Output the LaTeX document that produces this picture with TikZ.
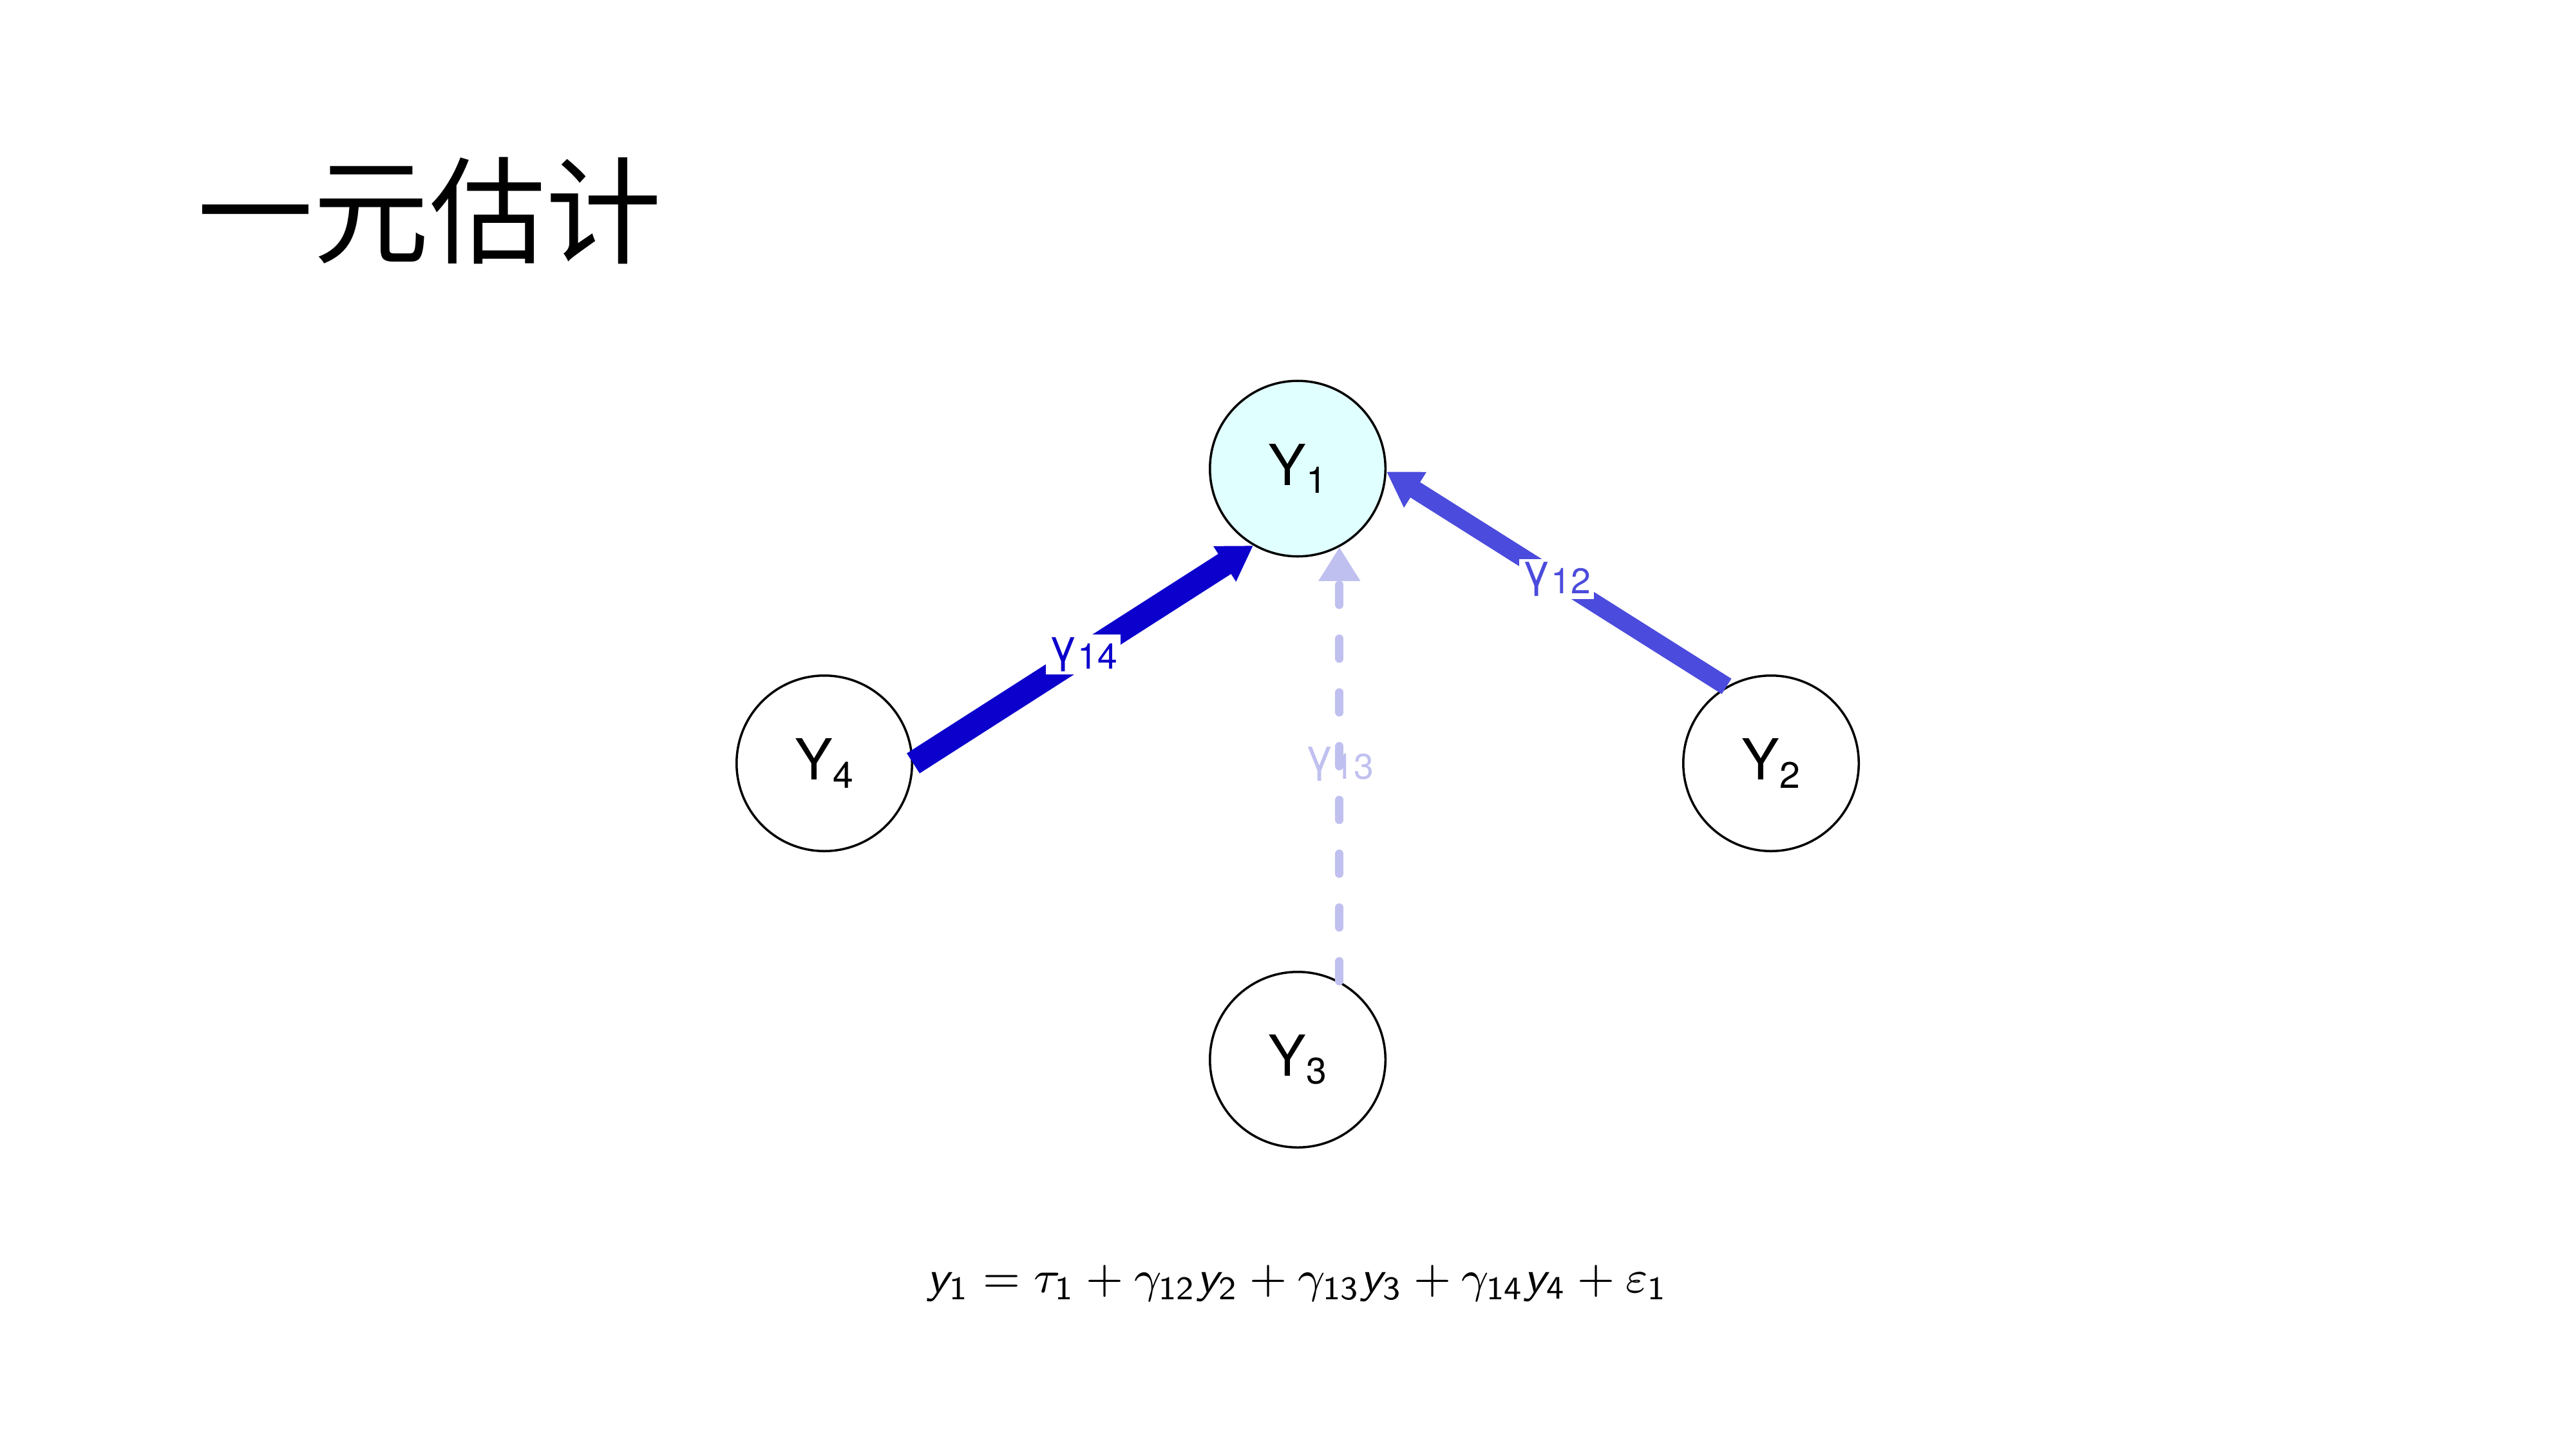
\documentclass[tikz,border=0pt]{standalone}
\usepackage{amsmath}
\usepackage{fontspec}
\newfontfamily\cjk{Noto Sans CJK SC}
\newfontfamily\helv{TeX Gyre Heros}
\usetikzlibrary{arrows.meta}
\DeclareMathAlphabet{\mathsfit}{OT1}{cmss}{m}{sl}
\definecolor{strongblue}{RGB}{12,0,204}
\definecolor{midblue}{RGB}{75,75,221}
\definecolor{paleblue}{RGB}{192,192,240}
\definecolor{palecyan}{RGB}{224,255,255}
\newcommand{\lowsub}[2][6.5]{\raisebox{-0.5mm}{\fontsize{#1}{#1}\selectfont #2}}

\begin{document}
\begin{tikzpicture}[
  var/.style={circle,draw,thin,minimum size=1.09cm,inner sep=0pt,font=\helv\fontsize{10}{12}\selectfont},
  effect/.style={-{Triangle[length=6pt,width=7pt]}},
  coef/.style={font=\helv\fontsize{8}{9}\selectfont,inner sep=0.5pt}
]
\path[use as bounding box,fill=white] (0,0) rectangle (16,9);
\node[anchor=west,inner sep=0pt,font=\cjk\fontsize{20.5}{24}\selectfont] (title) at (1.22,7.69) {一元估计};
\node[var,fill=palecyan] (y1) at (8.06,6.09) {Y\lowsub{1}};
\node[var] (y4) at (5.12,4.26) {Y\lowsub{4}};
\node[var] (y2) at (11.0,4.26) {Y\lowsub{2}};
\node[var] (y3) at (8.06,2.42) {Y\lowsub{3}};
\draw[effect,strongblue,line width=4.2pt] (y4.east) -- node[coef,fill=white,text=strongblue] {γ\lowsub[6.3]{14}} (y1.240);
\draw[effect,midblue,line width=3.2pt] (y2.120) -- node[coef,fill=white,text=midblue] {γ\lowsub[6.3]{12}} (y1.-2);
\draw[effect,paleblue,line width=1.5pt,line cap=round,dash pattern=on 3.5pt off 6pt] (y3.62) -- node[coef,text=paleblue] {γ\lowsub[6.3]{13}} (y1.-62);
\node[font=\fontsize{8.3}{10}\selectfont] (eq) at (8.06,1.03) {$\mathsfit{y}_{\mathsf{1}} = \tau_{\mathsf{1}} + \gamma_{\mathsf{12}}\mathsfit{y}_{\mathsf{2}} + \gamma_{\mathsf{13}}\mathsfit{y}_{\mathsf{3}} + \gamma_{\mathsf{14}}\mathsfit{y}_{\mathsf{4}} + \varepsilon_{\mathsf{1}}$};
\end{tikzpicture}
\end{document}
